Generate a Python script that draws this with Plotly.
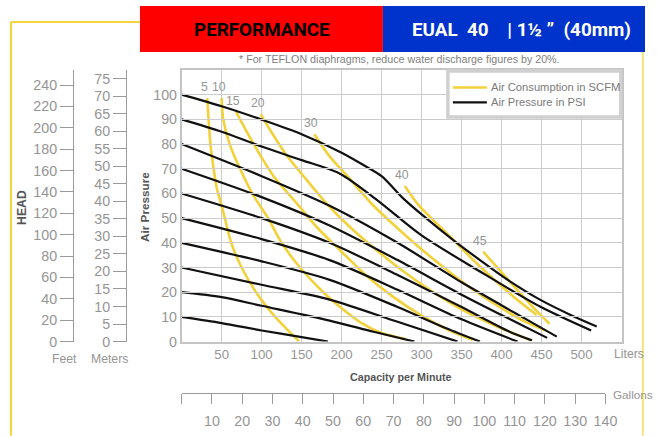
import plotly.graph_objects as go

# ---------------- data ----------------
# Air pressure curves (PSI): capacity in liters/min vs discharge pressure (psi)
p100_liters = [0, 50, 100, 150, 200, 230, 250, 277, 300, 340, 373, 410, 448, 485, 519]
p100_psi = [100, 95.3, 89.9, 84, 76.5, 71, 67, 58, 51.5, 41, 33, 24.5, 17, 11, 6.1]
p90_liters = [0, 50, 100, 150, 198, 244, 300, 373, 448, 512]
p90_psi = [90, 85, 79, 73.5, 68, 57.4, 43, 28.4, 14.2, 4.5]
p80_liters = [0, 100, 185, 270, 350, 420, 469]
p80_psi = [80, 67, 55, 40, 24, 11, 2]
p70_liters = [0, 100, 185, 270, 350, 420, 457]
p70_psi = [70, 58.5, 47, 33, 19, 7.5, 1.5]
p60_liters = [0, 100, 185, 270, 350, 410, 438]
p60_psi = [60, 50, 40, 27, 14, 4, 0.5]
p50_liters = [0, 100, 185, 270, 350, 420]
p50_psi = [50, 41.5, 33, 21, 9, 0]
p40_liters = [0, 100, 185, 270, 330, 373]
p40_psi = [40, 32.5, 25, 14, 5.5, 0]
p30_liters = [0, 100, 185, 270, 345]
p30_psi = [30, 23, 17, 8, 0]
p20_liters = [0, 50, 100, 185, 240, 291]
p20_psi = [20, 18, 14.5, 8.5, 4, 0]
p10_liters = [0, 50, 100, 150, 183]
p10_psi = [10, 7.5, 4.5, 1.8, 0]

# Air consumption curves (SCFM)
c5_liters = [32, 36, 40, 44, 48, 54, 62, 75, 93, 117, 147]
c5_psi = [98.6, 80, 70, 62, 57.4, 50, 40, 30, 20, 10, 0]
c10_liters = [50, 52, 60, 73, 90, 108, 125, 148, 177, 200, 225, 250, 280]
c10_psi = [98.6, 90, 80, 70, 59, 50, 40, 30, 20, 13.5, 7.5, 3.5, 1]
c15_liters = [68, 73, 90, 115, 144, 170, 198, 230, 265, 300, 335, 364]
c15_psi = [93, 90, 80, 67, 56, 46, 37, 27, 18, 10.5, 4.5, 0.7]
c20_liters = [99, 110, 130, 155, 181, 210, 240, 275, 310, 350, 395, 437]
c20_psi = [92, 86, 76, 66, 56, 46.5, 38, 29, 21, 13, 6, 0.5]
c30_liters = [166, 185, 210, 240, 280, 320, 360, 400, 430, 455]
c30_psi = [84, 75, 66, 55, 43, 32, 22, 13.5, 8, 4.5]
c40_liters = [279, 296, 331, 373, 415, 444]
c40_psi = [63, 55.4, 44, 30.4, 18.2, 10.8]
c45_liters = [377, 400, 425, 445, 460]
c45_psi = [36.4, 28, 19, 12, 7.2]

pressure_labels = [100, 90, 80, 70, 60, 50, 40, 30, 20, 10]
scfm_labels = ["5", "10", "15", "20", "30", "40", "45"]

liter_ticks = [50, 100, 150, 200, 250, 300, 350, 400, 450, 500]
psi_ticks = [0, 10, 20, 30, 40, 50, 60, 70, 80, 90, 100]
feet_ticks = [0, 20, 40, 60, 80, 100, 120, 140, 160, 180, 200, 220, 240]
meter_ticks = [0, 5, 10, 15, 20, 25, 30, 35, 40, 45, 50, 55, 60, 65, 70, 75]
gallon_ticks = [0, 10, 20, 30, 40, 50, 60, 70, 80, 90, 100, 110, 120, 130, 140]

PSI_TO_FEET = 2.31
FEET_TO_METERS = 0.3048
PSI_MAX = 110
LITERS_MAX = 550
LITERS_PER_GALLON = 3.785

# ---------------- styling / layout helpers ----------------
# the photographed page comes out slightly reduced; lay the page out on a
# frame that compensates for it so marks land where the reference has them
S = 0.982
W, H = 657 * S, 436 * S
FONT = "Liberation Sans, Arial, sans-serif"
BANNER_FONT = "Roboto, Liberation Sans, Arial, sans-serif"
GRAY = "#959595"
YELLOW = "#F2D13A"


def xp(x):
    return x / W


def yp(y):
    return 1 - y / H


def fs(size):
    return round(size / S, 2)


x_dom = [xp(181.7), xp(621.7)]
y_dom = [yp(341.7), yp(70)]

fig = go.Figure()

consumption = [
    (c5_liters, c5_psi), (c10_liters, c10_psi), (c15_liters, c15_psi),
    (c20_liters, c20_psi), (c30_liters, c30_psi), (c40_liters, c40_psi),
    (c45_liters, c45_psi),
]
for (lx, ly), name in zip(consumption, scfm_labels):
    fig.add_trace(go.Scatter(
        x=lx, y=ly, mode="lines", line=dict(color=YELLOW, width=2.6, shape="spline", smoothing=0.8),
        name=f"{name} SCFM", showlegend=False, hoverinfo="skip"))
    fig.add_annotation(x=lx[0], y=ly[0], xref="x", yref="y", text=name, showarrow=False,
                       xanchor="center", yanchor="middle",
                       xshift=-3, yshift=11, font=dict(size=fs(12), color=GRAY, family=FONT))

pressures = [
    (p100_liters, p100_psi), (p90_liters, p90_psi), (p80_liters, p80_psi),
    (p70_liters, p70_psi), (p60_liters, p60_psi), (p50_liters, p50_psi),
    (p40_liters, p40_psi), (p30_liters, p30_psi), (p20_liters, p20_psi),
    (p10_liters, p10_psi),
]
for (lx, ly), name in zip(pressures, pressure_labels):
    fig.add_trace(go.Scatter(
        x=lx, y=ly, mode="lines", line=dict(color="#111111", width=2.2, shape="spline", smoothing=0.8),
        name=f"{name} PSI", showlegend=False, hoverinfo="skip"))

# helper traces so that the secondary axes are drawn
fig.add_trace(go.Scatter(x=[None], y=[None], yaxis="y2", showlegend=False, hoverinfo="skip"))
fig.add_trace(go.Scatter(x=[None], y=[None], yaxis="y3", showlegend=False, hoverinfo="skip"))
fig.add_trace(go.Scatter(x=[None], y=[None], xaxis="x2", yaxis="y", showlegend=False, hoverinfo="skip"))

tickfont = dict(size=fs(13), color=GRAY, family=FONT)
tickfont_head = dict(size=fs(14), color=GRAY, family=FONT)

fig.update_layout(
    autosize=True,
    margin=dict(l=0, r=0, t=0, b=0),
    paper_bgcolor="white", plot_bgcolor="rgba(0,0,0,0)",
    font=dict(family=FONT, color=GRAY),
    showlegend=False,
    xaxis=dict(domain=x_dom, range=[0, LITERS_MAX], tickvals=liter_ticks,
               showgrid=True, gridcolor="#cccccc", gridwidth=1,
               showline=True, mirror=True, linecolor="#c4c4c4", linewidth=1.5,
               zeroline=False, ticks="", tickfont=tickfont, anchor="y"),
    yaxis=dict(domain=y_dom, range=[0, PSI_MAX], tickvals=psi_ticks,
               showgrid=True, gridcolor="#cccccc", gridwidth=1,
               showline=True, mirror=True, linecolor="#c4c4c4", linewidth=1.5,
               zeroline=False, ticks="", tickfont=tickfont_head, anchor="x"),
    yaxis2=dict(overlaying="y", anchor="free", position=xp(73), side="left",
                range=[0, PSI_MAX * PSI_TO_FEET], tickvals=feet_ticks,
                showgrid=False, zeroline=False, showline=True, linecolor="#9a9a9a", linewidth=1,
                ticks="outside", ticklen=13, tickcolor="#9a9a9a", tickfont=tickfont_head),
    yaxis3=dict(overlaying="y", anchor="free", position=xp(126), side="left",
                range=[0, PSI_MAX * PSI_TO_FEET * FEET_TO_METERS], tickvals=meter_ticks,
                showgrid=False, zeroline=False, showline=True, linecolor="#9a9a9a", linewidth=1,
                ticks="outside", ticklen=13, tickcolor="#9a9a9a", tickfont=tickfont_head),
    xaxis2=dict(anchor="free", position=yp(393), domain=[xp(181.7), xp(181.7 + 140 * LITERS_PER_GALLON * 0.8)],
                range=[0, 140], tickvals=gallon_ticks,
                ticktext=[""] + [str(v) for v in gallon_ticks[1:]],
                showgrid=False, zeroline=False, showline=True, linecolor="#9a9a9a", linewidth=1,
                ticks="outside", ticklen=10, tickcolor="#9a9a9a", tickfont=tickfont_head,
                ticklabelstandoff=5),
)

shapes = [
    # yellow frame
    dict(type="line", xref="paper", yref="paper", x0=xp(11), x1=xp(11), y0=yp(22), y1=yp(436),
         line=dict(color="#F5D53A", width=2)),
    dict(type="line", xref="paper", yref="paper", x0=xp(11), x1=xp(150), y0=yp(22), y1=yp(22),
         line=dict(color="#F5D53A", width=2)),
    dict(type="line", xref="paper", yref="paper", x0=xp(643), x1=xp(643), y0=yp(52), y1=yp(436),
         line=dict(color="#F8E27A", width=2)),
    # banner
    dict(type="rect", xref="paper", yref="paper", x0=xp(140), x1=xp(383), y0=yp(52), y1=yp(6),
         fillcolor="#FF0000", line=dict(width=0)),
    dict(type="rect", xref="paper", yref="paper", x0=xp(383), x1=1, y0=yp(52), y1=yp(6),
         fillcolor="#0033CC", line=dict(width=0)),
    # legend box
    dict(type="rect", xref="paper", yref="paper", x0=xp(448), x1=xp(621), y0=yp(117), y1=yp(71),
         fillcolor="white", line=dict(color="#d0d0d0", width=3.5)),
    dict(type="line", xref="paper", yref="paper", x0=xp(453), x1=xp(487), y0=yp(87.5), y1=yp(87.5),
         line=dict(color=YELLOW, width=2.4)),
    dict(type="line", xref="paper", yref="paper", x0=xp(453), x1=xp(487), y0=yp(102.5), y1=yp(102.5),
         line=dict(color="#111111", width=2.2)),
]
fig.update_layout(shapes=shapes)

NB = "\u00a0"
ann = [
    dict(x=xp(262), y=yp(30), text="<b>PERFORMANCE</b>", font=dict(size=fs(18.5), color="black", family=BANNER_FONT)),
    dict(x=xp(522), y=yp(30), text=f"<b>EUAL{NB}{NB}40{NB}{NB}{NB}{NB}|{NB}1½{NB}”{NB}{NB}(40mm)</b>",
         font=dict(size=fs(18.5), color="white", family=BANNER_FONT)),
    dict(x=xp(400), y=yp(59), text="* For TEFLON diaphragms, reduce water discharge figures by 20%.",
         font=dict(size=fs(10.5), color="#808080", family=FONT)),
    dict(x=xp(489), y=yp(87.5), xanchor="left", text="Air Consumption in SCFM",
         font=dict(size=fs(11), color="#7a7a7a", family=FONT)),
    dict(x=xp(489), y=yp(102.5), xanchor="left", text="Air Pressure in PSI",
         font=dict(size=fs(11), color="#7a7a7a", family=FONT)),
    dict(x=xp(22), y=yp(207), text="<b>HEAD</b>", textangle=-90,
         font=dict(size=fs(12), color="#555555", family=FONT)),
    dict(x=xp(145), y=yp(207), text="<b>Air Pressure</b>", textangle=-90,
         font=dict(size=fs(11.5), color="#555555", family=FONT)),
    dict(x=xp(401), y=yp(377), text="<b>Capacity per Minute</b>",
         font=dict(size=fs(10.5), color="#555555", family=FONT)),
    dict(x=xp(65), y=yp(359), text="Feet", font=dict(size=fs(12), color=GRAY, family=FONT)),
    dict(x=xp(110), y=yp(359), text="Meters", font=dict(size=fs(12), color=GRAY, family=FONT)),
    dict(x=xp(612), y=yp(354), xanchor="left", text="Liters", font=dict(size=fs(12), color=GRAY, family=FONT)),
    dict(x=xp(611), y=yp(395), xanchor="left", text="Gallons", font=dict(size=fs(11.5), color=GRAY, family=FONT)),
]
for a in ann:
    a.setdefault("xref", "paper")
    a.setdefault("yref", "paper")
    a.setdefault("showarrow", False)
    a.setdefault("xanchor", "center")
    a.setdefault("yanchor", "middle")
    fig.add_annotation(**a)

FIT_JS = (
    "document.documentElement.style.margin='0';"
    "document.body.style.margin='0';"
    "document.documentElement.style.overflow='hidden';"
    "document.body.style.overflow='hidden';"
    "Plotly.Plots.resize(document.getElementById('{plot_id}'));"
)

fig.write_html("out.html", config={"displayModeBar": False, "responsive": True},
               default_width="100vw", default_height="100vh", post_script=FIT_JS)
